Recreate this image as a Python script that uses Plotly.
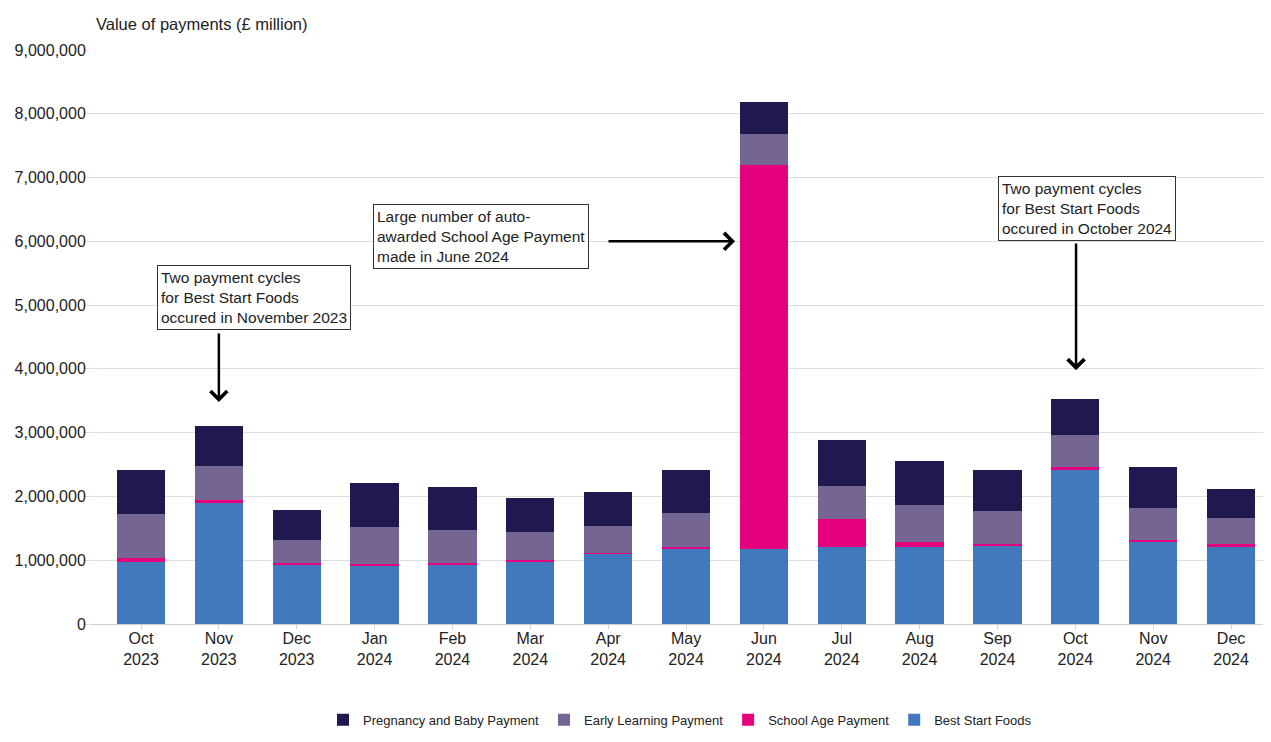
import plotly.graph_objects as go

months = ["Oct<br>2023", "Nov<br>2023", "Dec<br>2023", "Jan<br>2024", "Feb<br>2024",
          "Mar<br>2024", "Apr<br>2024", "May<br>2024", "Jun<br>2024", "Jul<br>2024",
          "Aug<br>2024", "Sep<br>2024", "Oct<br>2024", "Nov<br>2024", "Dec<br>2024"]

best_start_foods = [980000, 1890000, 930000, 910000, 920000, 980000, 1110000, 1180000,
                    1180000, 1210000, 1210000, 1220000, 2420000, 1280000, 1220000]
school_age = [60000, 60000, 30000, 30000, 40000, 30000, 5000, 30000,
              6010000, 440000, 70000, 40000, 40000, 40000, 30000]
early_learning = [690000, 530000, 360000, 580000, 520000, 430000, 420000, 530000,
                  490000, 520000, 580000, 510000, 500000, 500000, 410000]
pregnancy_baby = [690000, 630000, 460000, 690000, 670000, 540000, 540000, 670000,
                  500000, 710000, 700000, 640000, 570000, 640000, 450000]

y_ticks = [0, 1000000, 2000000, 3000000, 4000000, 5000000, 6000000, 7000000, 8000000, 9000000]

FONT = "Liberation Sans, Arial, sans-serif"
x_idx = list(range(len(months)))

fig = go.Figure()
# stacked bottom to top; legend shows top series first
series = [
    ("Best Start Foods", best_start_foods, "#4279bd", 4),
    ("School Age Payment", school_age, "#e5007e", 3),
    ("Early Learning Payment", early_learning, "#746593", 2),
    ("Pregnancy and Baby Payment", pregnancy_baby, "#1f194f", 1),
]
for name, vals, colour, rank in series:
    fig.add_trace(go.Bar(x=x_idx, y=vals, name=name, marker_color=colour,
                         marker_line_width=0, legendrank=rank))

# page body has an 8px margin, so the figure is drawn 8px smaller
fig.update_layout(
    barmode="stack",
    bargap=0.38,
    width=1263, height=734,
    margin=dict(l=82, r=1, t=42, b=118, autoexpand=False),
    plot_bgcolor="white", paper_bgcolor="white",
    font=dict(family=FONT, size=16, color="#222222"),
    legend=dict(orientation="h", x=0.5, xanchor="center", y=-0.167, yanchor="middle",
                font=dict(size=13), traceorder="normal", itemwidth=30),
    xaxis=dict(tickvals=x_idx, ticktext=months, range=[-0.655, 14.5], automargin=False,
               showgrid=False, showline=True, linecolor="#d0d0d0",
               ticks="outside", ticklen=4, tickcolor="#d0d0d0", zeroline=False,
               ticklabelstandoff=-4),
    yaxis=dict(range=[0, 9000000], tickvals=y_ticks, tickformat=",d", automargin=False,
               gridcolor="#dedede", gridwidth=1, zeroline=False,
               ticks="outside", ticklen=4, tickcolor="#dedede", ticklabelstandoff=-4),
)

fig.add_annotation(text="Value of payments (£ million)", xref="paper", yref="paper",
                   x=0.003, y=1.045, xanchor="left", yanchor="middle",
                   showarrow=False, font=dict(size=16.5))

box_style = dict(showarrow=False, align="left", xanchor="left", yanchor="top",
                 bordercolor="#333333", borderwidth=1, borderpad=3, bgcolor="white",
                 font=dict(size=15.5, color="#222222"))
fig.add_annotation(text="Two payment cycles<br>for Best Start Foods<br>occured in November 2023",
                   x=0.205, y=5630000, **box_style)
fig.add_annotation(text="Large number of auto-<br>awarded School Age Payment<br>made in June 2024",
                   x=2.98, y=6585000, **box_style)
fig.add_annotation(text="Two payment cycles<br>for Best Start Foods<br>occured in October 2024",
                   x=11.007, y=7024000, **box_style)

arrow_style = dict(text="", showarrow=True, axref="x", ayref="y", arrowhead=4,
                   arrowsize=1.3, arrowwidth=2.5, arrowcolor="black", standoff=0)
fig.add_annotation(x=1, y=3480000, ax=1, ay=4580000, **arrow_style)
fig.add_annotation(x=7.629, y=6000000, ax=5.985, ay=6000000, **arrow_style)
fig.add_annotation(x=12.009, y=3980000, ax=12.009, ay=5990000, **arrow_style)

fig.write_html("out.html")
